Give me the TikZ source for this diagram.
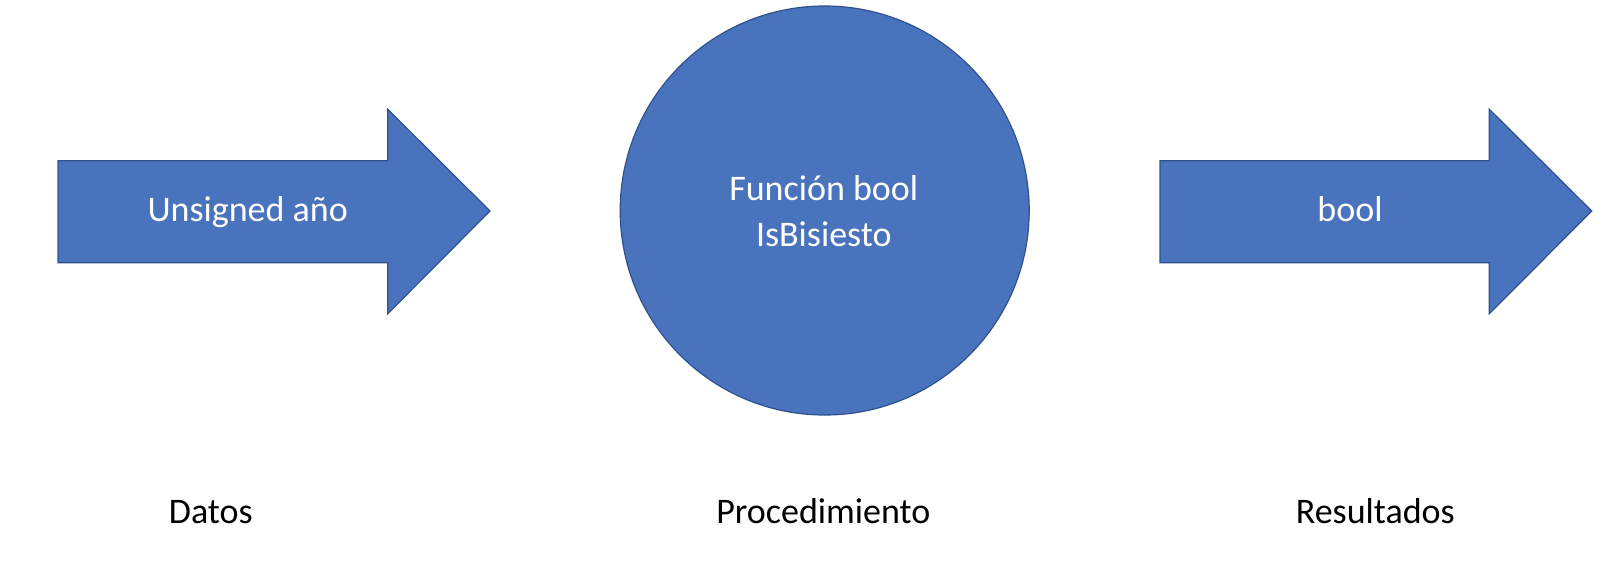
\documentclass[tikz,border=0pt]{standalone}
\usepackage{fontspec}
\setmainfont{Carlito}
\definecolor{boxfill}{RGB}{74,115,189}
\definecolor{boxline}{RGB}{47,82,143}
\begin{document}
\begin{tikzpicture}[x=1pt,y=-1pt,
  shapefill/.style={fill=boxfill,draw=boxline,line width=1.2pt,line join=miter},
  intext/.style={text=white,font=\fontsize{36}{44}\selectfont,inner sep=0pt,anchor=base},
  outtext/.style={text=black,font=\fontsize{36}{44}\selectfont,inner sep=0pt,anchor=base}]
\useasboundingbox[fill=white] (0,0) rectangle (1618,584);
% input arrow
\draw[shapefill] (58,160.7) -- (387.7,160.7) -- (387.7,109.2) -- (490,211) -- (387.7,313.8) -- (387.7,262.7) -- (58,262.7) -- cycle;
% procedure circle
\node[shapefill,circle,minimum size=409pt,inner sep=0pt] (proc) at (824.7,210.5) {};
% output arrow
\draw[shapefill] (1160,160.7) -- (1489.3,160.7) -- (1489.3,109.2) -- (1591.7,211) -- (1489.3,313.8) -- (1489.3,262.7) -- (1160,262.7) -- cycle;
\node[intext] (in) at (247.7,221) {Unsigned año};
\node[intext] (fa) at (823.8,200) {Función bool};
\node[intext] (fb) at (823.8,246.7) {IsBisiesto};
\node[intext] (out) at (1350,221.7) {bool};
\node[outtext] (datos) at (210.8,523.3) {Datos};
\node[outtext] (procl) at (823.3,523.3) {Procedimiento};
\node[outtext] (res) at (1375.3,523.3) {Resultados};
\end{tikzpicture}
\end{document}
